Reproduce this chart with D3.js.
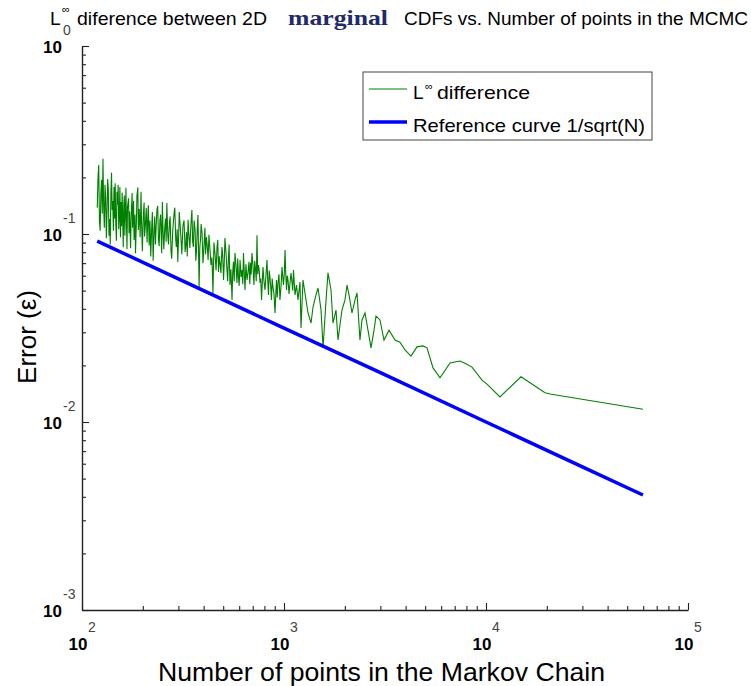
<!DOCTYPE html>
<html>
<head>
<meta charset="utf-8">
<script src="https://cdn.jsdelivr.net/npm/d3@7"></script>
<style>
  body { margin: 0; background: #fff; }
  svg { display: block; font-family: "Liberation Sans", Arial, sans-serif; }
</style>
</head>
<body>
<div class="chart"></div>
<script>
// L-inf difference, [number of points, error]
// dense start of the chain
const diffSeg1 = [
  [119, 0.138], [120, 0.200], [121, 0.233], [122, 0.118], [123, 0.104], [124, 0.165], [125, 0.194], [126, 0.128],
  [127, 0.251], [128, 0.140], [129, 0.108], [130, 0.182], [131, 0.156], [132, 0.095], [133, 0.130], [134, 0.196],
  [135, 0.172], [136, 0.098], [137, 0.120], [138, 0.088], [139, 0.162], [140, 0.212], [141, 0.134], [142, 0.150],
  [143, 0.104], [144, 0.178], [145, 0.121], [146, 0.186], [147, 0.113], [148, 0.092], [149, 0.168], [150, 0.143],
  [151, 0.183], [152, 0.106], [153, 0.125], [154, 0.178], [155, 0.096], [156, 0.148], [157, 0.110], [158, 0.166],
  [159, 0.121], [160, 0.085], [161, 0.142], [162, 0.160], [163, 0.098], [164, 0.131], [165, 0.176], [166, 0.117],
  [167, 0.083], [168, 0.139], [170, 0.155], [171, 0.101], [172, 0.132], [174, 0.084], [175, 0.120], [177, 0.165],
  [178, 0.108], [180, 0.150], [181, 0.093], [183, 0.127], [184, 0.079], [186, 0.118], [187, 0.160], [189, 0.177],
  [190, 0.105], [192, 0.136], [194, 0.096], [196, 0.168], [197, 0.119], [199, 0.081], [201, 0.124], [203, 0.147],
  [204, 0.097], [206, 0.112], [208, 0.138], [210, 0.090], [212, 0.128], [213, 0.142], [215, 0.087], [217, 0.118],
  [219, 0.076], [221, 0.104], [223, 0.131], [225, 0.072], [227, 0.099], [229, 0.124], [231, 0.088], [233, 0.112],
  [235, 0.135], [237, 0.141], [239, 0.094], [241, 0.086], [243, 0.118], [245, 0.127], [248, 0.079], [250, 0.148],
  [252, 0.103], [254, 0.083], [257, 0.109], [259, 0.121], [261, 0.091], [263, 0.146], [266, 0.098], [268, 0.088],
  [271, 0.115], [273, 0.124], [276, 0.080], [278, 0.074], [281, 0.102], [283, 0.114], [286, 0.131], [288, 0.138],
  [291, 0.094], [293, 0.085], [296, 0.106], [298, 0.071], [301, 0.098], [303, 0.131]
];
// middle part
const diffSeg2 = [
  [309, 0.0951], [312, 0.0780], [316, 0.111], [320, 0.118], [324, 0.0802], [327, 0.0890], [329, 0.102], [332, 0.0760],
  [335, 0.119], [338, 0.100], [342, 0.0842], [346, 0.112], [350, 0.134], [353, 0.0910], [356, 0.0852], [359, 0.118],
  [363, 0.105], [366, 0.0720], [369, 0.0822], [372, 0.107], [375, 0.126], [380, 0.0522], [383, 0.0850], [386, 0.0929],
  [389, 0.113], [393, 0.101], [397, 0.0700], [400, 0.0792], [403, 0.0930], [406, 0.108], [409, 0.0780], [413, 0.0962],
  [417, 0.0860], [421, 0.0728], [425, 0.0990], [428, 0.0896], [431, 0.0800], [435, 0.0684], [440, 0.0750], [445, 0.0486],
  [450, 0.0900], [456, 0.0773], [461, 0.0640], [466, 0.0852], [470, 0.0930], [474, 0.0628], [478, 0.0760], [482, 0.0702],
  [487, 0.0620], [493, 0.0852], [497, 0.0780], [502, 0.0569], [506, 0.0700], [510, 0.0951], [516, 0.0800], [522, 0.0644],
  [526, 0.0560], [531, 0.0754], [535, 0.0880], [540, 0.0535], [546, 0.0650], [553, 0.0446], [557, 0.0620], [562, 0.0711],
  [567, 0.0560], [572, 0.0792], [578, 0.0690], [585, 0.0549], [590, 0.0740], [595, 0.0590], [600, 0.0530], [606, 0.0728],
  [613, 0.0590], [620, 0.0644], [625, 0.0540], [630, 0.0792], [635, 0.0650], [641, 0.0504], [648, 0.0690], [656, 0.0569],
  [663, 0.0620], [671, 0.0711], [677, 0.0540], [683, 0.0702], [688, 0.0610], [694, 0.0792], [702, 0.0680], [710, 0.0535],
  [716, 0.0720], [723, 0.0644], [729, 0.0560], [735, 0.0986], [741, 0.0610], [748, 0.0684], [754, 0.0640], [761, 0.0549],
  [767, 0.0580], [774, 0.0446], [787, 0.0667], [796, 0.0560], [805, 0.0504], [814, 0.0600], [824, 0.0728], [831, 0.0560],
  [838, 0.0474], [845, 0.0640], [852, 0.0590], [860, 0.0520], [867, 0.0446], [874, 0.0580], [882, 0.0522], [892, 0.0480],
  [903, 0.0380], [910, 0.0470], [918, 0.0569], [926, 0.0460], [934, 0.0549], [944, 0.0610], [955, 0.0446], [966, 0.0520],
  [978, 0.0667], [986, 0.0590], [994, 0.0535], [1003, 0.0610], [1012, 0.0822], [1020, 0.0620], [1029, 0.0504], [1038, 0.0600],
  [1047, 0.0569], [1059, 0.0480], [1071, 0.0549], [1083, 0.0620], [1096, 0.0549], [1105, 0.0500], [1114, 0.0644], [1134, 0.0474],
  [1153, 0.0535], [1173, 0.0446]
];
// sparse tail
const diffSeg3 = [
  [1200, 0.0555], [1214, 0.0316], [1242, 0.0569], [1285, 0.0446], [1315, 0.0380], [1361, 0.0336], [1392, 0.0409], [1440, 0.0474],
  [1474, 0.0516], [1525, 0.0394], [1561, 0.0248], [1615, 0.0446], [1651, 0.0621], [1709, 0.0504], [1748, 0.0336], [1809, 0.0394],
  [1851, 0.0273], [1893, 0.0328], [1937, 0.0394], [2004, 0.0446], [2051, 0.0535], [2098, 0.0474], [2171, 0.0380], [2247, 0.0446],
  [2299, 0.0486], [2377, 0.0273], [2433, 0.0349], [2518, 0.0380], [2605, 0.0308], [2696, 0.0248], [2790, 0.0308], [2854, 0.0366],
  [2986, 0.0349], [3126, 0.0273], [3310, 0.0308], [3545, 0.0273], [3750, 0.0266], [3972, 0.0242], [4254, 0.0224], [4554, 0.0251],
  [4877, 0.0254], [5105, 0.0248], [5466, 0.0194], [5920, 0.0172], [6637, 0.0206], [7430, 0.0211], [7962, 0.0204], [8523, 0.0196],
  [9555, 0.0167], [10116, 0.0159], [11722, 0.0136], [14903, 0.0174], [19590, 0.0143], [20740, 0.0141], [59840, 0.0117]
];

// reference curve 1/sqrt(N)
const refN = [119, 300, 1000, 3000, 10000, 30000, 59840];
const refErr = [0.0917, 0.0577, 0.0316, 0.0183, 0.0100, 0.00577, 0.00409];

// decade tick labels
const xDecades = [1e2, 1e3, 1e4, 1e5];
const xExps = ["2", "3", "4", "5"];
const yDecades = [1e-3, 1e-2, 1e-1, 1];
const yExps = ["-3", "-2", "-1", "0"];

const width = 751;
const height = 686;

const svg = d3.select(".chart").append("svg")
  .attr("width", width)
  .attr("height", height);

const x = d3.scaleLog().domain([1e2, 1e5]).range([82, 688]);
const y = d3.scaleLog().domain([1e-3, 1]).range([610, 46]);

const isDecade = (v) => Math.abs(Math.log10(v) - Math.round(Math.log10(v))) < 1e-6;

// axes, ticks pointing inside
const xAxis = svg.append("g")
  .attr("transform", "translate(0,610)")
  .call(d3.axisBottom(x).tickValues(x.ticks()).tickSizeInner(-4).tickSizeOuter(0).tickFormat(""));
xAxis.selectAll(".tick line").attr("y2", (d) => (isDecade(d) ? -7 : -4));

const yAxis = svg.append("g")
  .attr("transform", "translate(82,0)")
  .call(d3.axisLeft(y).tickValues(y.ticks()).tickSizeInner(-4).tickSizeOuter(0).tickFormat(""));
yAxis.selectAll(".tick line").attr("x2", (d) => (isDecade(d) ? 7 : 4));

svg.selectAll(".domain").attr("stroke", "#222").attr("stroke-width", 1.4);
svg.selectAll(".tick line").attr("stroke", "#222").attr("stroke-width", 1.1);

// tick labels: bold 10 + grey exponent
const xLab = svg.append("g").selectAll("g").data(xDecades).enter().append("g");
xLab.append("text")
  .attr("x", (d) => x(d) - 4)
  .attr("y", 650)
  .attr("text-anchor", "middle")
  .attr("font-size", 17)
  .attr("font-weight", "bold")
  .text("10");
xLab.append("text")
  .attr("x", (d) => x(d) + 6)
  .attr("y", 632)
  .attr("font-size", 14)
  .attr("fill", "#444")
  .text((d, i) => xExps[i]);

const yLab = svg.append("g").selectAll("g").data(yDecades).enter().append("g");
yLab.append("text")
  .attr("x", 62)
  .attr("y", (d) => y(d) + 7)
  .attr("text-anchor", "end")
  .attr("font-size", 17)
  .attr("font-weight", "bold")
  .text("10");
yLab.append("text")
  .attr("x", 63)
  .attr("y", (d) => y(d) - 11)
  .attr("font-size", 14)
  .attr("fill", "#444")
  .text((d, i) => yExps[i]);

// lines
const line = d3.line().x((d) => x(d[0])).y((d) => y(d[1]));

svg.append("path")
  .datum(diffSeg1.concat(diffSeg2, diffSeg3))
  .attr("d", line)
  .attr("fill", "none")
  .attr("stroke", "#008000")
  .attr("stroke-width", 1.1);

svg.append("path")
  .datum(refN.map((n, i) => [n, refErr[i]]))
  .attr("d", line)
  .attr("fill", "none")
  .attr("stroke", "#0000ff")
  .attr("stroke-width", 3.5);

// legend
const legend = svg.append("g");
legend.append("rect")
  .attr("x", 363).attr("y", 72)
  .attr("width", 289).attr("height", 68)
  .attr("fill", "#fff")
  .attr("stroke", "#444")
  .attr("stroke-width", 1);
legend.append("line")
  .attr("x1", 369).attr("x2", 407).attr("y1", 89).attr("y2", 89)
  .attr("stroke", "#008000").attr("stroke-width", 1.1);
legend.append("line")
  .attr("x1", 369).attr("x2", 407).attr("y1", 122).attr("y2", 122)
  .attr("stroke", "#0000ff").attr("stroke-width", 3.5);
legend.append("text").attr("x", 413).attr("y", 99).attr("font-size", 19).text("L");
legend.append("text").attr("x", 425).attr("y", 90).attr("font-size", 11).text("\u221e");
legend.append("text")
  .attr("x", 437).attr("y", 99).attr("font-size", 19)
  .attr("textLength", 93).attr("lengthAdjust", "spacingAndGlyphs")
  .text("difference");
legend.append("text")
  .attr("x", 413).attr("y", 132)
  .attr("font-size", 19)
  .attr("textLength", 232)
  .attr("lengthAdjust", "spacingAndGlyphs")
  .text("Reference curve 1/sqrt(N)");

// title
const title = svg.append("g");
title.append("text").attr("x", 50).attr("y", 25).attr("font-size", 19).text("L");
title.append("text").attr("x", 62).attr("y", 13).attr("font-size", 11).text("\u221e");
title.append("text")
  .attr("x", 77).attr("y", 25).attr("font-size", 19)
  .attr("textLength", 190).attr("lengthAdjust", "spacingAndGlyphs")
  .text("diference between 2D");
title.append("text")
  .attr("x", 288).attr("y", 25)
  .attr("font-family", "'Liberation Serif', 'Times New Roman', serif")
  .attr("font-weight", "bold")
  .attr("font-size", 21)
  .attr("fill", "#1f2a6b")
  .attr("textLength", 100).attr("lengthAdjust", "spacingAndGlyphs")
  .text("marginal");
title.append("text")
  .attr("x", 404).attr("y", 25).attr("font-size", 19)
  .attr("textLength", 344).attr("lengthAdjust", "spacingAndGlyphs")
  .text("CDFs vs. Number of points in the MCMC");

// axis titles
svg.append("text")
  .attr("x", 158).attr("y", 681)
  .attr("font-size", 26)
  .attr("textLength", 447).attr("lengthAdjust", "spacingAndGlyphs")
  .text("Number of points in the Markov Chain");

svg.append("text")
  .attr("transform", "translate(36,337) rotate(-90)")
  .attr("text-anchor", "middle")
  .attr("font-size", 26)
  .text("Error (\u03b5)");
</script>
</body>
</html>
